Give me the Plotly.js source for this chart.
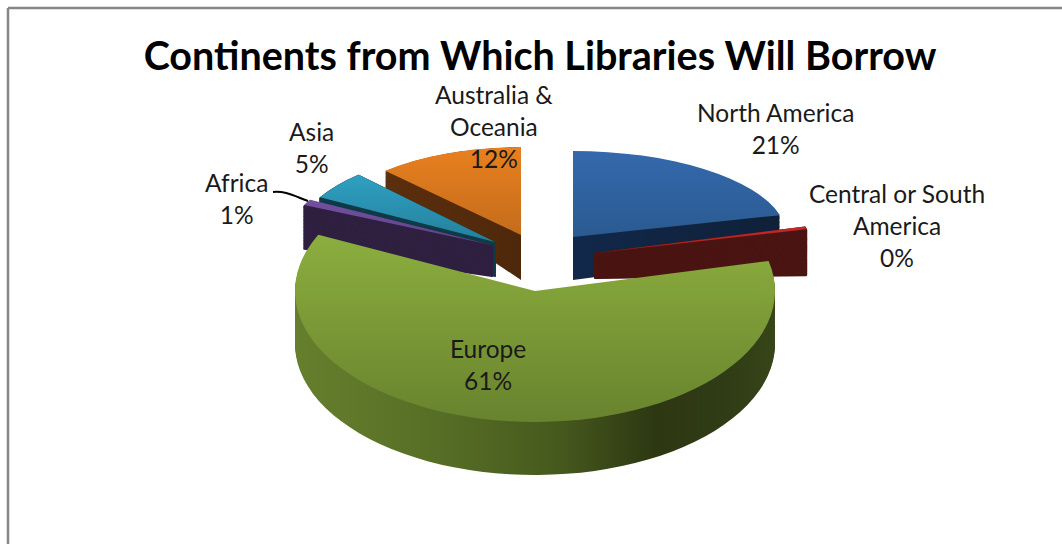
<!DOCTYPE html>
<html><head><meta charset="utf-8">
<script src="https://cdn.plot.ly/plotly-3.0.1.min.js"></script>
<style>html,body{margin:0;padding:0;background:#fff}#c{width:1062px;height:544px}</style>
</head><body><div id="c"></div>
<script>
const W = 1062, H = 544;
// data
const categories = ['North America','Central or South America','Europe','Africa','Asia','Australia & Oceania'];
const shares = [21, 0.4, 61, 1, 5, 12];
const percentLabels = ['21%','0%','61%','1%','5%','12%'];
const labelLines = [['North America'],['Central or South','America'],['Europe'],['Africa'],['Asia'],['Australia &','Oceania']];
// styles
const topStops = [['#3469ad','#2b5a90'],['#c42a2a','#a81f1f'],['#8cae3e','#68832e'],['#7350a0','#5f4288'],['#2fa0c2','#24809c'],['#e8801f','#c46c1c']];
const sideStops = [
  [['0','#12284a'],['1','#0f2138']],
  [['0','#4a1512'],['1','#43120f']],
  [['0','#667f2d'],['0.3','#566e25'],['0.55','#46591d'],['0.75','#2d3812'],['0.9','#303c15'],['1','#374519']],
  [['0','#2f2040'],['1','#281b36']],
  [['0','#0f3b48'],['1','#0f3b48']],
  [['0','#5c2f0d'],['1','#4e280b']]
];
const thinSlices = [1,3,4];
// layout of each exploded slice: apex, radii, wall height, growth of rim on wall
const drawOrder = [5,4,3,0,1,2];
const apexX = [573,595,535,492,495,521];
const apexY = [237,253,291,245,242,235];
const radX  = [214,217,240,208,200,199];
const radY  = [ 86,104,131, 93, 92, 88];
const wall  = [ 43, 25, 53, 31, 34, 45];
const rimGrow = [1.25,0.12,1,0.68,1,1.41];
const wallStep = [1.5,0.4,1.5,1,1,1.5];
// label positions
const labelX = [775,897,488,236,311,494];
const labelY = [129,225,364,198,147,126];

const px = x => x / W, py = y => 1 - y / H;
const clear = 'rgba(0,0,0,0)';
const traces = [], placements = [];
function pieFor(idx, color) {
  return {type:'pie', values:shares, labels:categories, sort:false, direction:'clockwise', rotation:0,
    textinfo:'none', hoverinfo:'skip', showlegend:false, domain:{x:[0,1],y:[0,1]},
    marker:{colors:shares.map((_, i) => i === idx ? color : clear), line:{width:0}}};
}
drawOrder.forEach(i => {
  const n = Math.round(wall[i] / wallStep[i]);
  for (let k = n; k >= 1; k--) {
    const f = k / n;
    traces.push(pieFor(i, sideStops[i][0][1]));
    placements.push({i, side:true, dy: wall[i] * f, sy: radY[i] * (1 + (rimGrow[i] - 1) * f), fill: 'side' + i});
  }
  traces.push(pieFor(i, topStops[i][0]));
  placements.push({i, side:false, dy: 0, sy: radY[i], fill: 'top' + i});
});

const annotations = categories.map((c, i) => ({
  xref:'paper', yref:'paper', x:px(labelX[i]), y:py(labelY[i]), xanchor:'center', yanchor:'middle',
  showarrow:false, align:'center',
  text: labelLines[i].concat(percentLabels[i]).join('<br>'),
  font:{family:'Lato, sans-serif', size:24.5, color:'#1a1a1a'}
}));

const line = {color:'#868686', width:2.5};
const layout = {
  width:W, height:H, margin:{l:0,r:0,t:0,b:0}, paper_bgcolor:'#fff', showlegend:false,
  title:{text:'<b>Continents from Which Libraries Will Borrow</b>', x:px(540), y:py(56), xref:'paper', yref:'paper',
    xanchor:'center', yanchor:'middle', font:{family:'Lato, sans-serif', size:39.5, color:'#000'}},
  annotations,
  shapes:[
    {type:'line', xref:'paper', yref:'paper', x0:px(8), y0:py(8), x1:1, y1:py(8), line},
    {type:'line', xref:'paper', yref:'paper', x0:px(8), y0:py(8), x1:px(8), y1:0, line},
    {type:'path', xref:'paper', yref:'paper', line:{color:'#000', width:2},
     path:`M${px(273)},${py(192)} C${px(285)},${py(191)} ${px(292)},${py(195)} ${px(308)},${py(201)}`}
  ]
};

Plotly.newPlot('c', traces, layout, {staticPlot:true, displayModeBar:false}).then(gd => {
  const cd = gd.calcdata[0][0], cx = cd.cx, cy = cd.cy, r = cd.r;
  const svg = gd.querySelector('svg.main-svg');
  const NS = 'http://www.w3.org/2000/svg';
  const defs = document.createElementNS(NS, 'defs');
  const grad = (id, stops, horizontal) => {
    const g = document.createElementNS(NS, 'linearGradient');
    g.setAttribute('id', id);
    g.setAttribute('x1','0'); g.setAttribute('y1','0');
    g.setAttribute('x2', horizontal ? '1' : '0'); g.setAttribute('y2', horizontal ? '0' : '1');
    stops.forEach(s => { const e = document.createElementNS(NS,'stop');
      e.setAttribute('offset', s[0]); e.setAttribute('stop-color', s[1]); g.appendChild(e); });
    defs.appendChild(g);
  };
  categories.forEach((c, i) => {
    grad('top' + i, [['0', topStops[i][0]], ['1', topStops[i][1]]], false);
    grad('side' + i, sideStops[i], true);
  });
  svg.insertBefore(defs, svg.firstChild);
  gd.querySelectorAll('.pielayer .trace').forEach((t, n) => {
    const p = placements[n];
    t.setAttribute('transform',
      `translate(${apexX[p.i]},${apexY[p.i] + p.dy}) scale(${radX[p.i] / r},${p.sy / r}) translate(${-cx},${-cy})`);
    const s = t.querySelectorAll('.slice path.surface')[p.i];
    if (!s) return;
    s.style.fill = `url(#${p.fill})`;
    if (p.side && thinSlices.includes(p.i)) {
      s.style.stroke = sideStops[p.i][0][1];
      s.style.strokeWidth = '2px';
      s.style.vectorEffect = 'non-scaling-stroke';
    }
  });
});
</script></body></html>
